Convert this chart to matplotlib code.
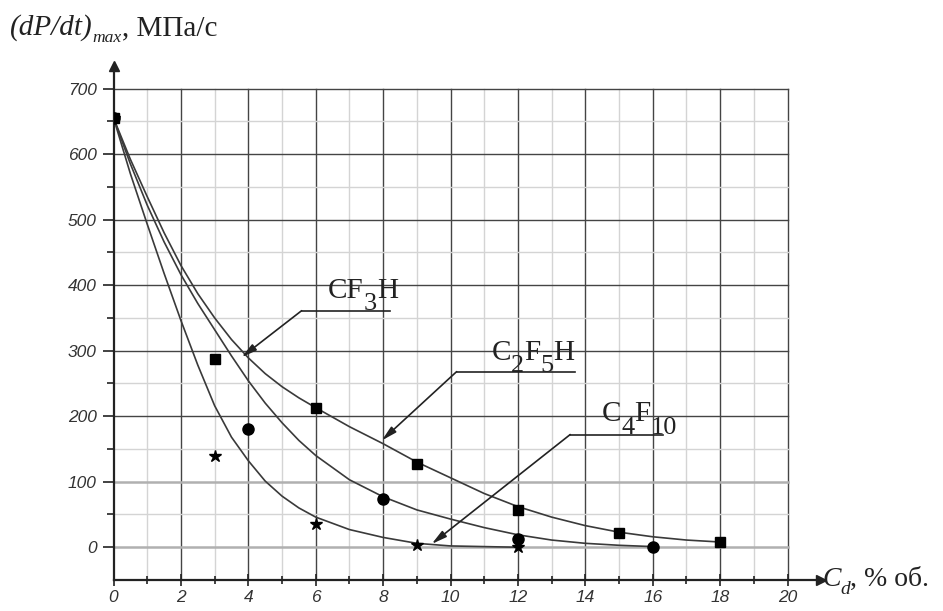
import matplotlib
matplotlib.use('Agg')
import matplotlib.pyplot as plt

plt.rcParams['font.family'] = ['Liberation Serif', 'DejaVu Serif']

# measured points
cf3h_x = [0, 3, 6, 9, 12, 15, 18]
cf3h_y = [655, 287, 212, 127, 57, 22, 8]
c2f5h_x = [0, 4, 8, 12, 16]
c2f5h_y = [655, 180, 73, 13, 1]
c4f10_x = [0, 3, 6, 9, 12]
c4f10_y = [655, 140, 35, 3, 0]

# approximating curves
fit_cf3h_x = [0, 0.5, 1, 1.5, 2, 2.5, 3, 3.5, 4, 4.5, 5, 5.5, 6, 7, 8, 9, 10, 11, 12, 13, 14, 15, 16, 17, 18]
fit_cf3h_y = [655, 592, 535, 480, 430, 387, 350, 317, 289, 265, 245, 228, 213, 184, 158, 130, 106, 82, 62, 46, 33, 23, 16, 11, 8]
fit_c2f5h_x = [0, 0.5, 1, 1.5, 2, 2.5, 3, 3.5, 4, 4.5, 5, 5.5, 6, 7, 8, 9, 10, 11, 12, 13, 14, 15, 16]
fit_c2f5h_y = [655, 585, 522, 466, 416, 372, 332, 292, 254, 220, 190, 163, 140, 103, 77, 57, 43, 30, 19, 11, 6, 3, 1]
fit_c4f10_x = [0, 0.5, 1, 1.5, 2, 2.5, 3, 3.5, 4, 4.5, 5, 5.5, 6, 7, 8, 9, 10, 11, 12]
fit_c4f10_y = [655, 570, 493, 418, 346, 278, 216, 168, 132, 101, 78, 60, 46, 27, 15, 6, 2, 1, 0]

x_ticks = [0, 2, 4, 6, 8, 10, 12, 14, 16, 18, 20]
y_ticks = [0, 100, 200, 300, 400, 500, 600, 700]

# label pieces: (text, style, is_subscript)
cf3h_label = [('CF', 'normal', False), ('3', 'normal', True), ('H', 'normal', False)]
c2f5h_label = [('C', 'normal', False), ('2', 'normal', True), ('F', 'normal', False),
               ('5', 'normal', True), ('H', 'normal', False)]
c4f10_label = [('C', 'normal', False), ('4', 'normal', True), ('F', 'normal', False),
               ('10', 'normal', True)]
y_title = [('(dP/dt)', 'italic', False), ('max', 'italic', True), (', МПа/с', 'normal', False)]
x_title = [('C', 'italic', False), ('d', 'italic', True), (', % об.', 'normal', False)]

fig = plt.figure(figsize=(9.43, 6.11), dpi=100)
ax = fig.add_axes([0.1204, 0.0507, 0.7505, 0.8419])
ax.set_xlim(0, 21)
ax.set_ylim(-50, 735)
renderer = fig.canvas.get_renderer()


def draw_parts(xy, parts, size, coords, sub_scale, sub_drop):
    """Write text pieces one after another, subscripts smaller and lowered."""
    dx = 0.0
    for s, style, sub in parts:
        fs = size * sub_scale if sub else size
        dy = -size * sub_drop if sub else 0
        t = ax.annotate(s, xy=xy, xycoords=coords, xytext=(dx, dy),
                        textcoords='offset points', fontsize=fs, fontstyle=style,
                        ha='left', va='baseline', color='#222222', zorder=6,
                        annotation_clip=False)
        dx += t.get_window_extent(renderer).width * 72 / fig.dpi


# grid, only inside 0..20 x 0..700
for xv in range(1, 21):
    if xv % 2 == 0:
        ax.plot([xv, xv], [-50, 700], color='#444444', lw=1.0, zorder=1)
    else:
        ax.plot([xv, xv], [-50, 700], color='#d4d4d4', lw=1.0, zorder=1)
for yv in range(0, 701, 50):
    if yv % 100 == 0:
        if yv <= 100:
            ax.plot([0, 20], [yv, yv], color='#b0b0b0', lw=1.8, zorder=1)
        else:
            ax.plot([0, 20], [yv, yv], color='#444444', lw=1.0, zorder=1)
    else:
        ax.plot([0, 20], [yv, yv], color='#d4d4d4', lw=1.0, zorder=1)

# curves
curve_kw = dict(color='#3a3a3a', lw=1.2, zorder=3)
ax.plot(fit_cf3h_x, fit_cf3h_y, **curve_kw)
ax.plot(fit_c2f5h_x, fit_c2f5h_y, **curve_kw)
ax.plot(fit_c4f10_x, fit_c4f10_y, **curve_kw)

ax.plot(cf3h_x, cf3h_y, 's', color='black', ms=7, zorder=4)
ax.plot(c2f5h_x, c2f5h_y, 'o', color='black', ms=8, zorder=4)
ax.plot(c4f10_x, c4f10_y, '*', color='black', ms=9, zorder=4)

# leaders with labels
arrow_kw = dict(arrowstyle='-|>,head_length=0.9,head_width=0.22', color='#222222', lw=1.2,
                shrinkA=0, shrinkB=0)

ax.plot([5.58, 8.2], [361, 361], color='#222222', lw=1.2, zorder=5)
ax.annotate('', xy=(3.80, 290), xytext=(5.58, 361), arrowprops=arrow_kw, zorder=5)
draw_parts((6.37, 380), cf3h_label, 21, 'data', 0.9, 0.42)

ax.plot([10.18, 13.69], [268, 268], color='#222222', lw=1.2, zorder=5)
ax.annotate('', xy=(7.96, 163), xytext=(10.18, 268), arrowprops=arrow_kw, zorder=5)
draw_parts((11.22, 286), c2f5h_label, 21, 'data', 0.9, 0.42)

ax.plot([13.55, 16.31], [172, 172], color='#222222', lw=1.2, zorder=5)
ax.annotate('', xy=(9.44, 5), xytext=(13.55, 172), arrowprops=arrow_kw, zorder=5)
draw_parts((14.49, 192), c4f10_label, 21, 'data', 0.9, 0.42)

# axes with arrows
for s in ['top', 'right']:
    ax.spines[s].set_visible(False)
for s in ['left', 'bottom']:
    ax.spines[s].set_color('#222222')
    ax.spines[s].set_linewidth(1.6)
ax.plot(1, 0, '>', color='#222222', ms=7, transform=ax.transAxes, clip_on=False)
ax.plot(0, 1, '^', color='#222222', ms=7, transform=ax.transAxes, clip_on=False)

ax.set_xticks(x_ticks)
ax.set_xticks(range(1, 21, 2), minor=True)
ax.set_yticks(y_ticks)
ax.set_yticks(range(50, 701, 100), minor=True)
ax.tick_params(axis='x', which='major', direction='inout', length=9, width=1.2, color='#222222', pad=3)
ax.tick_params(axis='x', which='minor', direction='inout', length=6, width=1.2, color='#222222')
ax.tick_params(axis='y', which='major', direction='out', length=8, width=1.2, color='#222222', pad=4)
ax.tick_params(axis='y', which='minor', direction='out', length=5, width=1.2, color='#222222')
for lab in ax.get_xticklabels() + ax.get_yticklabels():
    lab.set_fontfamily('Liberation Sans')
    lab.set_fontstyle('italic')
    lab.set_fontsize(12.5)
    lab.set_color('#333333')

draw_parts((10 / 943, 1 - 35 / 611), y_title, 21, 'figure fraction', 0.6, 0.25)
draw_parts((822 / 943, 1 - 586 / 611), x_title, 20, 'figure fraction', 0.7, 0.3)

fig.savefig('out.png', dpi=100)
